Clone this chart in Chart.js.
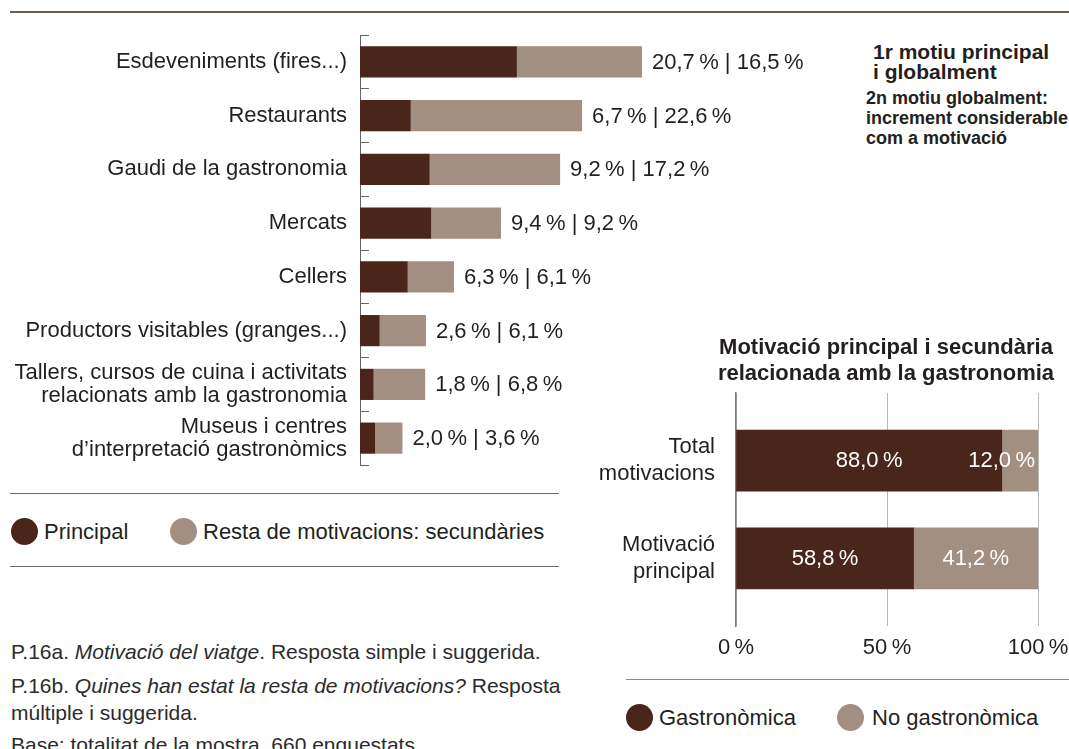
<!DOCTYPE html>
<html lang="ca">
<head>
<meta charset="utf-8">
<title>Motivació gastronòmica</title>
<script src="https://cdn.jsdelivr.net/npm/chart.js@4.4.1/dist/chart.umd.min.js"></script>
<style>
  body { margin: 0; background: #fff; font-family: 'Liberation Sans', Arial, sans-serif; color: #231f20; }
  #page { position: relative; width: 1069px; height: 749px; overflow: hidden; }
  canvas { position: absolute; }
  .rule { position: absolute; height: 0; border-top: 1.5px solid #6b6b6b; }
  .note { position: absolute; font-weight: bold; font-size: 21px; line-height: 20px; white-space: nowrap; }
  .dot { position: absolute; width: 27px; height: 27px; border-radius: 50%; }
  .lg { position: absolute; font-size: 22px; line-height: 26px; white-space: nowrap; }
  .foot { position: absolute; left: 11px; font-size: 21px; line-height: 27px; color: #2b2b2b; white-space: nowrap; }
  #rightTitle { position: absolute; left: 686px; top: 334px; width: 400px; text-align: center;
                font-weight: bold; font-size: 22px; line-height: 26px; }
</style>
</head>
<body>
<div id="page">
  <div class="rule" style="left:10px; top:11px; width:1059px; border-top:2px solid #6e5a52;"></div>

  <canvas id="motivChart" width="830" height="480" style="left:0; top:0;"></canvas>

  <div class="note" style="left:873px; top:42px;">1r motiu principal<br>i globalment</div>
  <div class="note" style="left:866px; top:88px; font-size:18px;">2n motiu globalment:<br>increment considerable<br>com a motivació</div>

  <div class="rule" style="left:10px; top:493px; width:549px;"></div>
  <div class="dot" style="left:11px; top:518px; background:#49251a;"></div>
  <div class="lg" style="left:44px; top:519px;">Principal</div>
  <div class="dot" style="left:170px; top:518px; background:#a38e82;"></div>
  <div class="lg" style="left:203px; top:519px;">Resta de motivacions: secundàries</div>
  <div class="rule" style="left:10px; top:566px; width:549px;"></div>

  <div class="foot" style="top:638px;">P.16a. <i>Motivació del viatge</i>. Resposta simple i suggerida.</div>
  <div class="foot" style="top:672px;">P.16b. <i>Quines han estat la resta de motivacions?</i> Resposta<br>múltiple i suggerida.</div>
  <div class="foot" style="top:731px;">Base: totalitat de la mostra, 660 enquestats.</div>

  <div id="rightTitle">Motivació principal i secundària<br>relacionada amb la gastronomia</div>
  <canvas id="gastroChart" width="489" height="300" style="left:580px; top:380px;"></canvas>

  <div class="rule" style="left:626px; top:679px; width:443px; border-top-color:#8a8a8a;"></div>
  <div class="dot" style="left:626px; top:704px; background:#49251a;"></div>
  <div class="lg" style="left:659px; top:705px;">Gastronòmica</div>
  <div class="dot" style="left:837px; top:704px; background:#a38e82;"></div>
  <div class="lg" style="left:872px; top:705px;">No gastronòmica</div>
</div>

<script>
// dades gràfic esquerre (motivació del viatge)
const categories = [
  'Esdeveniments (fires...)',
  'Restaurants',
  'Gaudi de la gastronomia',
  'Mercats',
  'Cellers',
  'Productors visitables (granges...)',
  ['Tallers, cursos de cuina i activitats', 'relacionats amb la gastronomia'],
  ['Museus i centres', 'd\u2019interpretació gastronòmics']
];
const principal = [20.7, 6.7, 9.2, 9.4, 6.3, 2.6, 1.8, 2.0];
const secundaria = [16.5, 22.6, 17.2, 9.2, 6.1, 6.1, 6.8, 3.6];

// dades gràfic dret (gastronòmica / no gastronòmica)
const rightCategories = [['Total', 'motivacions'], ['Motivació', 'principal']];
const gastronomica = [88.0, 58.8];
const noGastronomica = [12.0, 41.2];
const rightTicks = [0, 50, 100];

const DARK = '#49251a';
const LIGHT = '#a38e82';
const TEXT = '#231f20';

Chart.defaults.font.family = "'Liberation Sans', Arial, sans-serif";
Chart.defaults.font.size = 22;
Chart.defaults.color = TEXT;

const fmt = v => v.toFixed(1).replace('.', ',') + '\u2009%';

// treu el farciment que Chart.js afegeix per les etiquetes de l'eix
const noScalePadding = s => { s.paddingTop = 0; s.paddingBottom = 0; s.paddingLeft = 0; s.paddingRight = 0; };

// etiquetes "x % | y %" al final de cada barra
const endLabels = {
    id: 'endLabels',
    afterDatasetsDraw(chart) {
        const ctx = chart.ctx;
        const meta = chart.getDatasetMeta(1);
        ctx.save();
        ctx.font = "22px 'Liberation Sans', Arial, sans-serif";
        ctx.fillStyle = TEXT;
        ctx.textAlign = 'left';
        ctx.textBaseline = 'middle';
        meta.data.forEach((bar, i) => {
            ctx.fillText(fmt(principal[i]) + ' | ' + fmt(secundaria[i]), bar.x + 10, bar.y + 1);
        });
        ctx.restore();
    }
};

// etiquetes blanques dins les barres
const innerLabels = {
    id: 'innerLabels',
    afterDatasetsDraw(chart) {
        const ctx = chart.ctx;
        ctx.save();
        ctx.font = "22px 'Liberation Sans', Arial, sans-serif";
        ctx.fillStyle = '#ffffff';
        ctx.textAlign = 'center';
        ctx.textBaseline = 'middle';
        chart.data.datasets.forEach((ds, d) => {
            chart.getDatasetMeta(d).data.forEach((bar, i) => {
                const txt = fmt(ds.data[i].x);
                const w = ctx.measureText(txt).width;
                const right = Math.max(bar.x, bar.base);
                const mid = (bar.x + bar.base) / 2;
                ctx.fillText(txt, Math.min(mid, right - 3 - w / 2), bar.y);
            });
        });
        ctx.restore();
    }
};

new Chart(document.getElementById('motivChart'), {
    type: 'bar',
    data: {
        labels: categories,
        datasets: [
            { label: 'Principal', data: principal, backgroundColor: DARK },
            { label: 'Resta de motivacions: secundàries', data: secundaria, backgroundColor: LIGHT }
        ]
    },
    options: {
        indexAxis: 'y',
        responsive: false,
        animation: false,
        devicePixelRatio: 1,
        categoryPercentage: 0.58,
        barPercentage: 1,
        layout: { padding: { top: 35, bottom: 15, left: 0, right: 91 } },
        plugins: { legend: { display: false }, tooltip: { enabled: false } },
        scales: {
            x: { stacked: true, display: false, min: 0, max: 50 },
            y: {
                stacked: true,
                afterFit: s => { s.width = 360; noScalePadding(s); },
                border: { display: true, color: '#666', width: 1 },
                grid: { drawOnChartArea: false, drawTicks: true, tickLength: -9, color: '#666', lineWidth: 1 },
                ticks: { padding: 22, color: TEXT, font: { size: 22, lineHeight: 1.05 } }
            }
        }
    },
    plugins: [endLabels]
});

new Chart(document.getElementById('gastroChart'), {
    type: 'bar',
    data: {
        datasets: [
            { label: 'Gastronòmica', data: gastronomica.map((v, i) => ({ x: v, y: i + 1 })), backgroundColor: DARK },
            { label: 'No gastronòmica', data: noGastronomica.map((v, i) => ({ x: v, y: i + 1 })), backgroundColor: LIGHT }
        ]
    },
    options: {
        indexAxis: 'y',
        responsive: false,
        animation: false,
        devicePixelRatio: 1,
        barThickness: 61,
        layout: { padding: { top: 13, bottom: 0, left: 0, right: 31 } },
        plugins: { legend: { display: false }, tooltip: { enabled: false } },
        scales: {
            x: {
                type: 'linear',
                stacked: true,
                min: 0,
                max: 100,
                afterFit: s => { s.height = 54; noScalePadding(s); },
                afterBuildTicks: s => { s.ticks = rightTicks.map(v => ({ value: v })); },
                border: { display: false },
                grid: { drawTicks: false, color: '#b8b8b8', lineWidth: 1 },
                ticks: { padding: 9, color: TEXT, callback: v => v + '\u2009%' }
            },
            y: {
                type: 'linear',
                stacked: true,
                offset: false,
                reverse: true,
                min: 0.31,
                max: 2.69,
                afterFit: s => { s.width = 156; noScalePadding(s); },
                afterBuildTicks: s => { s.ticks = rightCategories.map((_, i) => ({ value: i + 1 })); },
                border: { display: true, color: '#7a7a7a', width: 1.5 },
                grid: { display: false, offset: false },
                ticks: {
                    padding: 13,
                    color: TEXT,
                    font: { size: 22, lineHeight: 1.22 },
                    callback: v => rightCategories[v - 1]
                }
            }
        }
    },
    plugins: [innerLabels]
});
</script>
</body>
</html>
